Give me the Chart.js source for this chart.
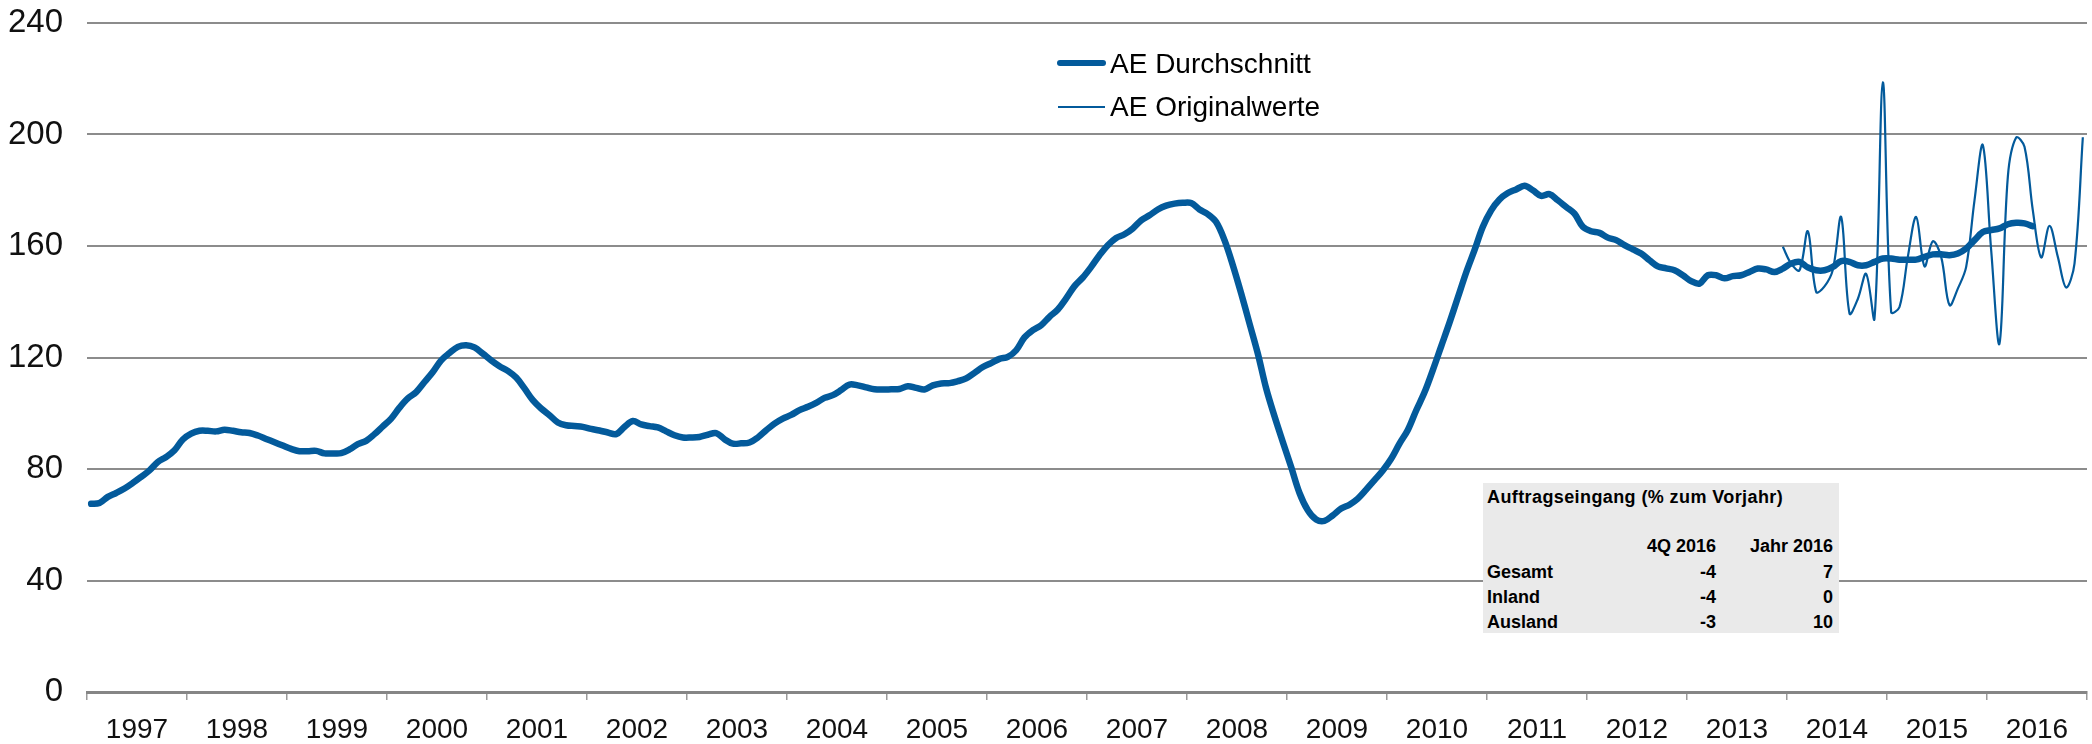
<!DOCTYPE html>
<html>
<head>
<meta charset="utf-8">
<script src="https://cdn.jsdelivr.net/npm/chart.js@4.4.1/dist/chart.umd.min.js"></script>
<style>
  html, body { margin: 0; padding: 0; background: #fff; }
  #wrap { position: relative; width: 2092px; height: 744px; font-family: "Liberation Sans", Arial, sans-serif; }
  #c { position: absolute; left: 0; top: 0; }
  .lg { position: absolute; font-size: 28px; line-height: 28px; color: #000; white-space: nowrap; }
  .sw { position: absolute; background: #035a9b; }
  #tbl { position: absolute; left: 1483px; top: 483px; width: 356px; height: 150px; background: #eaeaea; }
  .t { position: absolute; font-size: 18px; line-height: 18px; font-weight: bold; color: #000; white-space: nowrap; }
  .r { text-align: right; }
</style>
</head>
<body>
<div id="wrap">
  <canvas id="c" width="2092" height="744"></canvas>
  <div class="sw" style="left:1057px;top:60px;width:49px;height:6px;border-radius:3px;"></div>
  <div class="lg" style="left:1110px;top:50px;" id="lg1"></div>
  <div class="sw" style="left:1058px;top:106px;width:47px;height:2px;"></div>
  <div class="lg" style="left:1110px;top:93px;" id="lg2"></div>
  <div id="tbl"></div>
</div>
<script>
// ---- data ----
const years = ['1997','1998','1999','2000','2001','2002','2003','2004','2005','2006',
               '2007','2008','2009','2010','2011','2012','2013','2014','2015','2016'];
const yTickValues = [0, 40, 80, 120, 160, 200, 240];
const seriesNames = ['AE Durchschnitt', 'AE Originalwerte'];

// AE Durchschnitt, monthly from Jan 1997 to Jun 2016
const aeDurchschnitt = [
  67.5, 67.8, 70.0, 71.4, 73.0, 75.0, 77.2, 79.5, 82.5, 84.3, 86.7, 90.6,         // 1997
  92.7, 93.7, 93.7, 93.5, 94.1, 93.7, 93.2, 92.9, 92.0, 90.8, 89.6, 88.4,         // 1998
  87.2, 86.4, 86.4, 86.5, 85.6, 85.6, 85.7, 87.0, 88.9, 90.1, 92.5, 95.3,         // 1999
  98.1, 102.0, 105.3, 107.6, 111.2, 114.8, 119.0, 121.6, 123.8, 124.4, 123.6, 121.4, // 2000
  119.0, 116.9, 115.2, 112.8, 108.9, 104.7, 101.7, 99.3, 96.7, 95.7, 95.4, 95.1,  // 2001
  94.4, 93.8, 93.1, 92.5, 95.1, 97.2, 96.0, 95.4, 94.9, 93.5, 92.1, 91.3,         // 2002
  91.3, 91.5, 92.3, 92.9, 90.7, 89.1, 89.2, 89.5, 91.3, 93.9, 96.3, 98.1,         // 2003
  99.4, 101.1, 102.3, 103.7, 105.5, 106.5, 108.3, 110.3, 110.0, 109.3, 108.6, 108.5, // 2004
  108.6, 108.7, 109.7, 109.1, 108.5, 110.0, 110.7, 110.8, 111.5, 112.5, 114.5, 116.6, // 2005
  118.0, 119.5, 120.2, 122.6, 127.2, 129.8, 131.6, 134.6, 137.2, 141.2, 145.6, 148.7, // 2006
  152.5, 156.7, 160.3, 162.9, 164.2, 166.3, 169.2, 171.0, 173.1, 174.5, 175.2, 175.5, // 2007
  175.4, 173.1, 171.4, 168.6, 162.1, 153.1, 143.0, 132.2, 121.4, 108.9, 98.9, 89.7,   // 2008
  80.7, 71.4, 65.2, 61.9, 61.4, 63.4, 65.8, 67.2, 69.4, 72.6, 76.0, 79.5,         // 2009
  83.7, 89.1, 94.0, 101.0, 107.5, 115.5, 124.0, 132.5, 141.5, 150.5, 158.5, 166.9, // 2010
  172.8, 176.7, 179.0, 180.3, 181.6, 180.0, 178.0, 178.6, 176.4, 174.0, 171.6, 166.9, // 2011
  165.3, 164.7, 163.0, 162.1, 160.3, 158.8, 157.3, 154.9, 152.7, 152.0, 151.3, 149.5, // 2012
  147.4, 146.5, 149.5, 149.5, 148.4, 149.2, 149.5, 150.7, 151.9, 151.6, 150.7, 151.9, // 2013
  153.7, 154.3, 152.3, 151.3, 151.3, 152.5, 154.6, 154.3, 153.1, 153.1, 154.3, 155.5, // 2014
  155.5, 155.1, 155.1, 155.1, 156.1, 157.0, 157.0, 156.7, 157.3, 159.1, 162.1, 165.0, // 2015
  165.7, 166.3, 167.8, 168.3, 168.1, 167.1                                            // 2016
];

// AE Originalwerte, monthly from Dec 2013 to Dec 2016
const originalStartMonth = 203; // months after Jan 1997
const aeOriginalwerte = [
  159.7,                                                                               // Dec 2013
  153.7, 151.3, 165.3, 143.5, 145.5, 151.5, 170.4, 135.8, 141.0, 150.0, 134.0, 218.7, // 2014
  136.3, 138.1, 156.1, 170.4, 152.7, 161.7, 156.1, 138.8, 144.7, 152.5, 176.4, 196.2, // 2015
  158.5, 125.0, 184.8, 198.9, 195.6, 172.8, 155.9, 167.2, 156.1, 145.1, 153.7, 199.0  // 2016
];

// table
const tableTitle = 'Auftragseingang (% zum Vorjahr)';
const tableCols = ['4Q 2016', 'Jahr 2016'];
const tableRows = ['Gesamt', 'Inland', 'Ausland'];
const table4Q = [-4, -4, -3];
const tableJahr = [7, 0, 10];

// ---- overlays (legend + table) ----
document.getElementById('lg1').textContent = seriesNames[0];
document.getElementById('lg2').textContent = seriesNames[1];
(function buildTable() {
  const tbl = document.getElementById('tbl');
  const add = (txt, style, cls) => {
    const d = document.createElement('div');
    d.className = 't' + (cls ? ' ' + cls : '');
    d.textContent = txt;
    Object.assign(d.style, style);
    tbl.appendChild(d);
  };
  add(tableTitle, { left: '4px', top: '5px', letterSpacing: '0.4px' });
  add(tableCols[0], { right: (356 - 233) + 'px', top: '54px' }, 'r');
  add(tableCols[1], { right: (356 - 350) + 'px', top: '54px' }, 'r');
  tableRows.forEach((r, k) => {
    const top = (80 + 25 * k) + 'px';
    add(r, { left: '4px', top });
    add(String(table4Q[k]), { right: (356 - 233) + 'px', top }, 'r');
    add(String(tableJahr[k]), { right: (356 - 350) + 'px', top }, 'r');
  });
})();

// ---- chart ----
const blue = '#035a9b';
const FONT = '"Liberation Sans", Arial, sans-serif';

new Chart(document.getElementById('c'), {
  type: 'line',
  data: {
    datasets: [
      {
        label: seriesNames[0],
        data: aeDurchschnitt.map((v, i) => ({ x: i + 0.5, y: v })),
        borderColor: blue,
        borderWidth: 6.5,
        borderCapStyle: 'round',
        borderJoinStyle: 'round',
        pointRadius: 0,
        tension: 0.35,
        fill: false,
        order: 0
      },
      {
        label: seriesNames[1],
        data: aeOriginalwerte.map((v, k) => ({ x: originalStartMonth + k + 0.5, y: v })),
        borderColor: blue,
        borderWidth: 2.2,
        pointRadius: 0,
        tension: 0.35,
        fill: false,
        order: 1
      }
    ]
  },
  options: {
    responsive: false,
    animation: false,
    devicePixelRatio: 1,
    layout: { padding: { top: 23, right: 5, left: 0, bottom: 0 } },
    plugins: { legend: { display: false }, tooltip: { enabled: false } },
    scales: {
      x: {
        type: 'linear',
        min: 0,
        max: years.length * 12,
        afterBuildTicks: (s) => {
          const t = years.map((y, k) => ({ value: k * 12 }));
          t.push({ value: years.length * 12 });
          s.ticks = t;
        },
        afterFit: (s) => { s.height = 52; },
        grid: {
          drawOnChartArea: false,
          drawTicks: true,
          tickLength: 8,
          color: '#9a9a9a',
          lineWidth: 1.5
        },
        border: { display: true, color: '#858585', width: 3 },
        ticks: {
          autoSkip: false,
          maxRotation: 0,
          minRotation: 0,
          labelOffset: 50,
          padding: 4,
          color: '#111',
          font: { family: FONT, size: 28, lineHeight: 1.85 },
          callback: (v, idx) => (idx < years.length ? years[idx] : '')
        }
      },
      y: {
        min: yTickValues[0],
        max: yTickValues[yTickValues.length - 1],
        afterBuildTicks: (s) => { s.ticks = yTickValues.map(v => ({ value: v })); },
        afterFit: (s) => { s.width = 87; },
        grid: { color: '#8c8c8c', lineWidth: 2, drawTicks: true, tickLength: 24, tickColor: 'rgba(0,0,0,0)' },
        border: { display: false },
        ticks: {
          padding: 0,
          color: '#111',
          font: { family: FONT, size: 33 }
        }
      }
    }
  }
});
</script>
</body>
</html>
